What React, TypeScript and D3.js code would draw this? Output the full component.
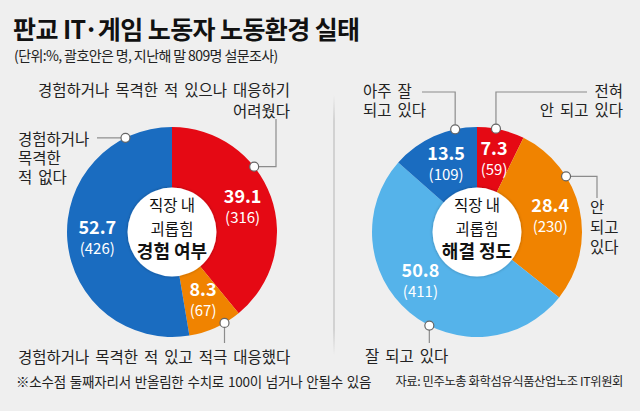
import React from 'react';
import * as d3 from 'd3';

// 괴롭힘 경험 여부 (%, 명)
const expCategories = [
  '경험하거나 목격한 적 있으나 대응하기 어려웠다',
  '경험하거나 목격한 적 있고 적극 대응했다',
  '경험하거나 목격한 적 없다',
];
const expShares = [39.1, 8.3, 52.7];
const expCounts = [316, 67, 426];

// 괴롭힘 해결 정도 (%, 명)
const resCategories = ['전혀 안 되고 있다', '안 되고 있다', '잘 되고 있다', '아주 잘 되고 있다'];
const resShares = [7.3, 28.4, 50.8, 13.5];
const resCounts = [59, 230, 411, 109];

const W = 640;
const H = 411;
const FONT = '"Noto Sans CJK KR", "Noto Sans", sans-serif';
const TEXT = '#222';
const LINE = '#8c8c8c';

const expColors = ['#e50914', '#f08300', '#1a6cc0'];
const resColors = ['#e50914', '#f08300', '#55b3ea', '#1a6cc0'];

type Callout = {
  angle: number; // degrees clockwise from 12 o'clock, on the outer edge
  path: (x: number, y: number) => [number, number][];
  lines: string[];
  x: number;
  y0: number;
  step: number;
  anchor: 'start' | 'end';
};

const expCallouts: Callout[] = [
  {
    angle: 51.5,
    path: (x, y) => [[x, y], [276, y], [276, 119]],
    lines: ['경험하거나 목격한 적 있으나 대응하기', '어려웠다'],
    x: 290, y0: 90, step: 21.5, anchor: 'end',
  },
  {
    angle: 150,
    path: (x, y) => [[x, y], [x, 343]],
    lines: ['경험하거나 목격한 적 있고 적극 대응했다'],
    x: 18, y0: 357, step: 0, anchor: 'start',
  },
  {
    angle: 333.7,
    path: (x, y) => [[x, y], [97, y]],
    lines: ['경험하거나', '목격한', '적 없다'],
    x: 18, y0: 139, step: 19, anchor: 'start',
  },
];

const resCallouts: Callout[] = [
  {
    angle: 10.4,
    path: (x, y) => [[x, y], [x, 92], [587, 92]],
    lines: ['전혀', '안 되고 있다'],
    x: 623, y0: 91, step: 19.5, anchor: 'end',
  },
  {
    angle: 58,
    path: (x, y) => [[x, y], [597, y], [597, 198]],
    lines: ['안', '되고', '있다'],
    x: 590, y0: 207, step: 20, anchor: 'start',
  },
  {
    angle: 207,
    path: (x, y) => [[x, y], [x, 343]],
    lines: ['잘 되고 있다'],
    x: 365, y0: 356, step: 0, anchor: 'start',
  },
  {
    angle: 348,
    path: (x, y) => [[x, y], [x, 92], [422, 92]],
    lines: ['아주 잘', '되고 있다'],
    x: 363, y0: 91, step: 19.5, anchor: 'start',
  },
];

const R_OUT = 105;
const R_IN = 40;
const HOLE = 44.5;

interface DonutProps {
  cx: number;
  cy: number;
  shares: number[];
  counts: number[];
  colors: string[];
  callouts: Callout[];
  title: string;
  labelNudge?: number[]; // degrees
}

const Donut: React.FC<DonutProps> = ({ cx, cy, shares, counts, colors, callouts, title, labelNudge }) => {
  const pie = d3.pie<number>().sort(null).value((d) => d);
  const arcs = pie(shares);
  const arc = d3.arc<d3.PieArcDatum<number>>().innerRadius(R_IN).outerRadius(R_OUT);
  const labelArc = d3.arc<d3.PieArcDatum<number>>().innerRadius(150 - R_OUT).outerRadius(R_OUT);
  const line = d3.line();

  return (
    <g>
      <g transform={`translate(${cx},${cy})`}>
        {arcs.map((a, i) => (
          <path key={i} d={arc(a) || ''} fill={colors[i]} />
        ))}
        <circle r={HOLE} fill="#fff" filter="url(#holeShadow)" />
        {arcs.map((a, i) => {
          const n = ((labelNudge?.[i] || 0) * Math.PI) / 180;
          const [lx, ly] = labelArc.centroid({ ...a, startAngle: a.startAngle + n, endAngle: a.endAngle + n });
          return (
            <g key={i} transform={`translate(${lx},${ly})`} fill="#fff" textAnchor="middle">
              <text y={-10.5} dy="0.36em" fontSize={18} fontWeight={700}>
                {shares[i].toFixed(1)}
              </text>
              <text y={10.5} dy="0.36em" fontSize={15}>
                ({counts[i]})
              </text>
            </g>
          );
        })}
        <g textAnchor="middle" fill="#111">
          <text y={-27} dy="0.36em" fontSize={15.5}>직장 내</text>
          <text y={-3} dy="0.36em" fontSize={15.5}>괴롭힘</text>
          <text y={19.5} dy="0.36em" fontSize={18} fontWeight={700}>{title}</text>
        </g>
      </g>
      {callouts.map((c, i) => {
        const t = (c.angle * Math.PI) / 180;
        const x = cx + R_OUT * Math.sin(t);
        const y = cy - R_OUT * Math.cos(t);
        return (
          <g key={i}>
            <path d={line(c.path(x, y)) || ''} fill="none" stroke={LINE} strokeWidth={1.2} />
            <circle cx={x} cy={y} r={4.5} fill="#fff" stroke="#666" strokeWidth={1.2} />
            {c.lines.map((s, j) => (
              <text
                key={j}
                x={c.x}
                y={c.y0 + j * c.step}
                dy="0.36em"
                textAnchor={c.anchor}
                fontSize={15.5}
                wordSpacing={2.5}
                fill={TEXT}
              >
                {s}
              </text>
            ))}
          </g>
        );
      })}
    </g>
  );
};

export default function App() {
  return (
    <div style={{ width: W, height: H }}>
      <style>{'body{margin:0}'}</style>
      <svg width={W} height={H} viewBox={`0 0 ${W} ${H}`} fontFamily={FONT} style={{ display: 'block' }}>
        <defs>
          <filter id="holeShadow" x="-20%" y="-20%" width="140%" height="140%">
            <feDropShadow dx="0" dy="0" stdDeviation="1.5" floodColor="#000" floodOpacity="0.3" />
          </filter>
          <linearGradient id="divider" x1="0" y1="0" x2="0" y2="1">
            <stop offset="0" stopColor="#d2d2d2" stopOpacity="0" />
            <stop offset="0.1" stopColor="#d2d2d2" />
            <stop offset="0.9" stopColor="#d2d2d2" />
            <stop offset="1" stopColor="#d2d2d2" stopOpacity="0" />
          </linearGradient>
        </defs>
        <rect width={W} height={H} fill="#efefef" />
        <text x={13} y={39} fontSize={25} fontWeight={700} fill="#111" letterSpacing={-0.6}>
          판교 IT·게임 노동자 노동환경 실태
        </text>
        <text x={14} y={61} fontSize={14} fill={TEXT} letterSpacing={-0.6}>
          (단위:%, 괄호안은 명, 지난해 말 809명 설문조사)
        </text>

        <rect x={333} y={95} width={2} height={260} fill="url(#divider)" />

        <Donut
          cx={172}
          cy={232}
          shares={expShares}
          counts={expCounts}
          colors={expColors}
          callouts={expCallouts}
          title="경험 여부"
        />
        <Donut
          cx={477}
          cy={232}
          shares={resShares}
          counts={resCounts}
          colors={resColors}
          callouts={resCallouts}
          title="해결 정도"
          labelNudge={[0, 0, 9, 0]}
        />

        <text x={16} y={382} dy="0.36em" fontSize={13.5} fill={TEXT} letterSpacing={-0.2} wordSpacing={1}>
          ※소수점 둘째자리서 반올림한 수치로 100이 넘거나 안될수 있음
        </text>
        <text x={623} y={382} dy="0.36em" fontSize={12.3} fill={TEXT} textAnchor="end" letterSpacing={-0.4}>
          자료: 민주노총 화학섬유식품산업노조 IT위원회
        </text>
      </svg>
    </div>
  );
}
